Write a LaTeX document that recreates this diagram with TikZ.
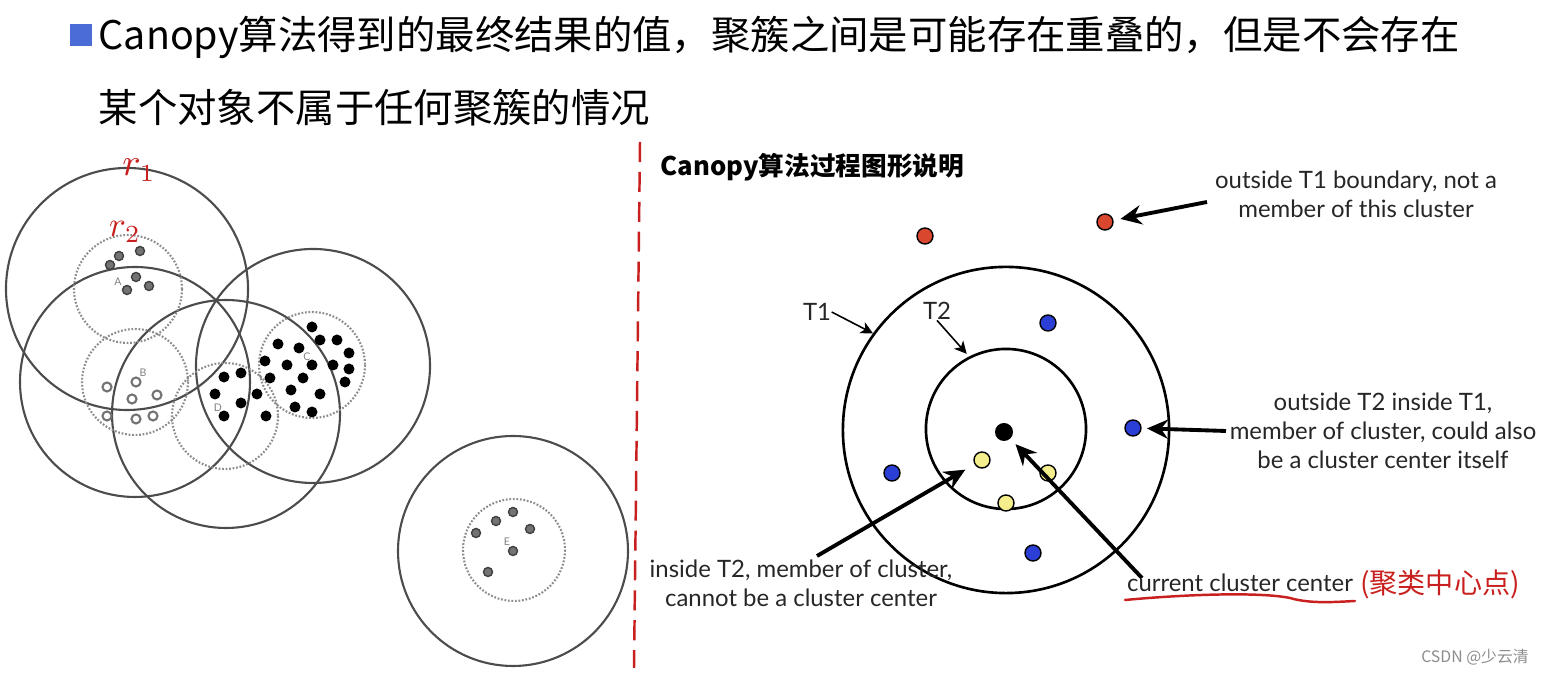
\documentclass[tikz,border=0pt]{standalone}
\usepackage{fontspec}
\setmainfont{Lato}
\newfontfamily\cjk{Noto Sans CJK SC}
\usepackage{tikz}
\definecolor{bulletblue}{HTML}{4A6CD4}
\definecolor{outsidered}{HTML}{D9472F}
\definecolor{memberblue}{HTML}{2B3FD6}
\definecolor{innergold}{HTML}{F4EE8C}
\definecolor{penred}{HTML}{C8201E}
\usetikzlibrary{arrows.meta}
\usetikzlibrary{positioning}
\tikzstyle{headline}=[anchor=west, inner sep=0, font={\cjk\fontsize{11.2}{13}\selectfont}]
\tikzstyle{ring}=[draw=black!70, line width=0.6pt]
\tikzstyle{canopy}=[draw=black!45, line width=0.6pt, dash pattern=on 0.5pt off 0.5pt]
\tikzstyle{greydot}=[circle, fill=black!55, draw=black!75, line width=0.4pt, inner sep=0, minimum size=0.09cm]
\tikzstyle{hollowdot}=[circle, fill=white, draw=black!55, line width=0.6pt, inner sep=0, minimum size=0.09cm]
\tikzstyle{blackdot}=[circle, fill=black, inner sep=0, minimum size=0.11cm]
\tikzstyle{tag}=[font={\fontsize{3}{3}\selectfont}, text=black!50, inner sep=0]
\tikzstyle{threshold}=[circle, draw=black, line width=0.75pt, inner sep=0]
\tikzstyle{member}=[circle, draw=black, line width=0.4pt, inner sep=0, minimum size=0.16cm]
\tikzstyle{note}=[align=center, inner sep=0, text=black!85, font={\fontsize{6.8}{8.3}\selectfont}]
\tikzstyle{link}=[-{Stealth[length=6pt, width=5.5pt, inset=2pt]}, line width=1.1pt]
\tikzstyle{smalllink}=[-{Stealth[length=3.5pt, width=3.5pt, inset=1pt]}, line width=0.45pt]
\tikzstyle{pen}=[text=penred, inner sep=0]
\begin{document}
\begin{tikzpicture}[x=0.01cm, y=-0.01cm]

    \useasboundingbox (0,0) rectangle (1541,674);

    % headline
    \node[fill=bulletblue, inner sep=0, minimum size=0.22cm] (bullet) at (81,35) {};
    \node[headline] (line1) at (98,37) {Canopy算法得到的最终结果的值，聚簇之间是可能存在重叠的，但是不会存在};
    \node[headline] (line2) at (98,108) {某个对象不属于任何聚簇的情况};

    % left: canopies
    \draw[ring] (127,289) circle[radius=121];
    \draw[ring] (135,382) circle[radius=115];
    \draw[ring] (226,414) circle[radius=114];
    \draw[ring] (313,366) circle[radius=117];
    \draw[ring] (513,551) circle[radius=115];

    \draw[canopy] (128,289) circle[radius=54];
    \draw[canopy] (135,382) circle[radius=53];
    \draw[canopy] (225,416) circle[radius=53];
    \draw[canopy] (312,365) circle[radius=53];
    \draw[canopy] (514,550) circle[radius=51];

    \foreach \p [count=\i] in {(110,265), (119,256), (140,251), (136,277), (149,286), (127,290)}
        \node[greydot] (a\i) at \p {};
    \foreach \p [count=\i] in {(107,387), (136,382), (132,399), (157,395), (107,416), (136,419), (153,416)}
        \node[hollowdot] (b\i) at \p {};
    \foreach \p [count=\i] in {(312,327), (320,340), (337,340), (349,353), (278,344), (299,348), (265,361), (287,365), (312,365),
                               (333,365), (349,369), (270,378), (303,378), (345,382), (291,390), (320,394), (295,407), (312,412)}
        \node[blackdot] (c\i) at \p {};
    \foreach \p [count=\i] in {(224,377), (241,373), (215,394), (241,403), (224,416), (257,394), (266,416)}
        \node[blackdot] (d\i) at \p {};
    \foreach \p [count=\i] in {(513,512), (496,521), (530,529), (476,533), (513,551), (488,572)}
        \node[greydot] (e\i) at \p {};

    \node[tag] (taga) at (118,282) {A};
    \node[tag] (tagb) at (143,373) {B};
    \node[tag] (tagc) at (307,357) {C};
    \node[tag] (tagd) at (218,408) {D};
    \node[tag] (tage) at (507,542) {E};

    \node[pen, font={\fontsize{10.5}{10.5}\selectfont}] (r1) at (139,170) {$r_1$};
    \node[pen, font={\fontsize{10}{10}\selectfont}] (r2) at (125,232) {$r_2$};

    % divider
    \draw[penred, line width=0.7pt, dash pattern=on 5.7pt off 2.8pt] (640,142) -- (634,668);

    % right: T1 / T2 illustration
    \node[anchor=west, inner sep=0, font={\cjk\bfseries\fontsize{7.3}{9}\selectfont}] (caption) at (660,167) {Canopy算法过程图形说明};

    \node[threshold, minimum size=3.26cm] (t1) at (1006,430) {};
    \node[threshold, minimum size=1.60cm] (t2) at (1006,429) {};

    \node[member, fill=outsidered] (red1) at (925,236) {};
    \node[member, fill=outsidered] (red2) at (1105,222) {};
    \node[member, fill=memberblue] (blue1) at (1048,323) {};
    \node[member, fill=memberblue] (blue2) at (1133,428) {};
    \node[member, fill=memberblue] (blue3) at (892,473) {};
    \node[member, fill=memberblue] (blue4) at (1033,553) {};
    \node[member, fill=innergold] (gold1) at (982,460) {};
    \node[member, fill=innergold] (gold2) at (1048,473) {};
    \node[member, fill=innergold] (gold3) at (1006,503) {};
    \node[circle, fill=black, inner sep=0, minimum size=0.18cm] (centre) at (1004,432) {};

    \node[note] (t1label) at (817,312) {T1};
    \node[note] (t2label) at (937,311) {T2};
    \draw[smalllink] (t1label.east) -- (t1.144);
    \draw[smalllink, shorten >=1pt] (t2label.south) -- (t2.117);

    \node[note] (outsidenote) at (1356,194) {outside T1 boundary, not a\\member of this cluster};
    \node[note] (membernote) at (1383,431) {outside T2 inside T1,\\member of cluster, could also\\be a cluster center itself};
    \node[note] (innernote) at (801,583) {inside T2, member of cluster,\\cannot be a cluster center};
    \node[note] (centrenote) at (1240,583) {current cluster center};

    \coordinate (outsidetail) at (1207,202);
    \coordinate (membertail) at (1226,431);
    \coordinate (innertail) at (817,556);
    \coordinate (centretail) at (1142,578);
    \draw[link, shorten >=2pt] (outsidetail) -- (red2);
    \draw[link, shorten >=1.5pt] (membertail) -- (blue2);
    \draw[link, shorten >=3pt] (innertail) -- (gold1);
    \draw[link, shorten >=2pt] (centretail) -- (centre);

    % handwritten remarks
    \draw[penred, line width=0.7pt, line cap=round] (1125,600) .. controls (1190,594) and (1260,592) .. (1290,598)
        .. controls (1310,604) and (1335,602) .. (1355,601);
    \node[pen, font={\cjk\fontsize{8}{8}\selectfont}] (remark) at (1440,584) {(聚类中心点)};

    \node[inner sep=0, text=black!45, font={\cjk\fontsize{4.5}{5}\selectfont}] (watermark) at (1475,657) {CSDN @少云清};

\end{tikzpicture}
\end{document}
